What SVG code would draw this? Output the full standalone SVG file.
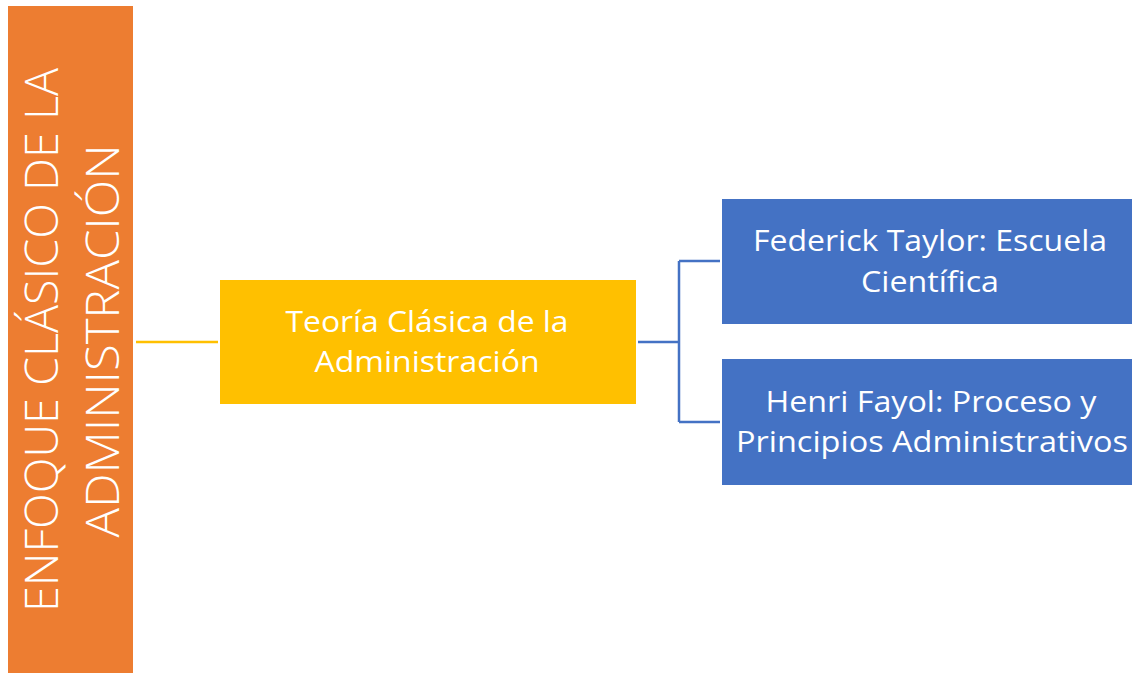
<svg xmlns="http://www.w3.org/2000/svg" width="1132" height="673" viewBox="0 0 1132 673">
<style>
.t{font-family:"Open Sans","Noto Sans","Liberation Sans",sans-serif;fill:#fff;text-anchor:middle}
.v{font-weight:300;font-size:46px}
.m{font-size:30px}
</style>
<rect width="1132" height="673" fill="#fff"/>
<g id="connectors" fill="none" stroke-width="2.5">
<line x1="136" y1="342" x2="218" y2="342" stroke="#FFC000"/>
<path d="M638 342 H679 M679 261 V422 M679 261 H720 M679 422 H720" stroke="#4472C4"/>
</g>
<g id="enfoque">
<rect x="8" y="6" width="125" height="667" fill="#ED7D31"/>
<text class="t v" transform="translate(58,340) rotate(-90)" textLength="544" lengthAdjust="spacingAndGlyphs">ENFOQUE CLÁSICO DE LA</text>
<text class="t v" transform="translate(119,341) rotate(-90)" textLength="393" lengthAdjust="spacingAndGlyphs">ADMINISTRACIÓN</text>
</g>
<g id="teoria">
<rect x="220" y="280" width="416" height="124" fill="#FFC000"/>
<text class="t m" x="427" y="332" textLength="283" lengthAdjust="spacingAndGlyphs">Teoría Clásica de la</text>
<text class="t m" x="427" y="372" textLength="225" lengthAdjust="spacingAndGlyphs">Administración</text>
</g>
<g id="taylor">
<rect x="722" y="199" width="410" height="125" fill="#4472C4"/>
<text class="t m" x="930" y="251" textLength="354" lengthAdjust="spacingAndGlyphs">Federick Taylor: Escuela</text>
<text class="t m" x="930" y="292" textLength="138" lengthAdjust="spacingAndGlyphs">Científica</text>
</g>
<g id="fayol">
<rect x="722" y="359" width="410" height="126" fill="#4472C4"/>
<text class="t m" x="931" y="412" textLength="331" lengthAdjust="spacingAndGlyphs">Henri Fayol: Proceso y</text>
<text class="t m" x="932" y="452" textLength="392" lengthAdjust="spacingAndGlyphs">Principios Administrativos</text>
</g>
</svg>
